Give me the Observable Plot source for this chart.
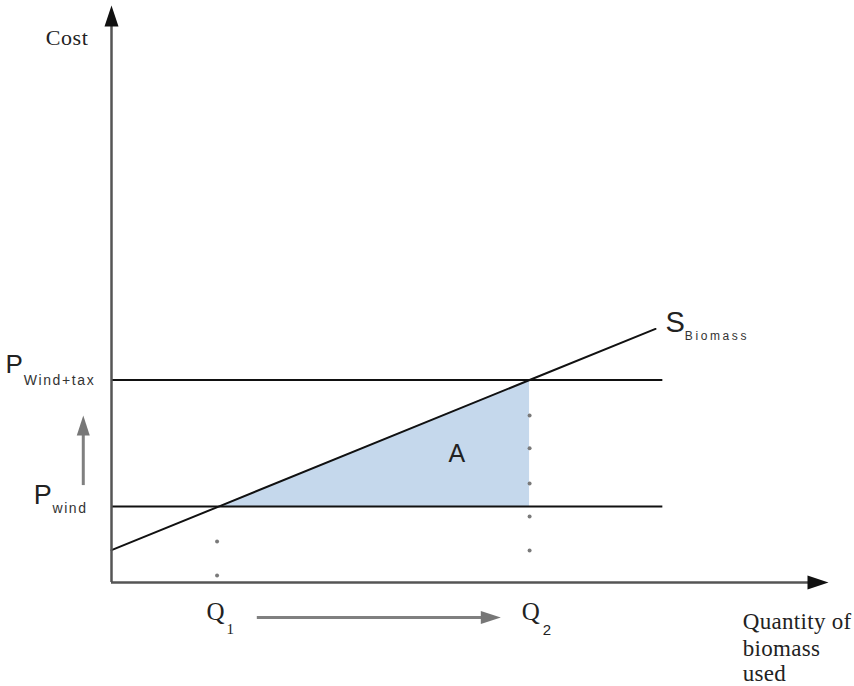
<!DOCTYPE html>
<html>
<head>
<meta charset="utf-8">
<script src="https://cdn.jsdelivr.net/npm/d3@7"></script>
<script src="https://cdn.jsdelivr.net/npm/@observablehq/plot@0.6"></script>
<style>
  html, body { margin: 0; padding: 0; background: #ffffff; }
  #chart svg { display: block; }
</style>
</head>
<body>
<div id="chart"></div>
<script>
// ---- diagram values (abstract units: quantity on x, cost on y) ----
const Q1 = 2.05, Q2 = 8;
const P_WIND = 3, P_TAX = 8;
const supplyQ = [0, Q1, Q2, 10.41];
const supplyP = [1.28, P_WIND, P_TAX, 10.02];
const xMax = 13.72, yMax = 22.8;
const priceLineEnd = 10.55;
const dotsAtQ1 = [0.28, 1.62];
const dotsAtQ2 = [1.26, 2.61, 3.91, 5.30, 6.60];
const qArrow = {from: 2.79, to: 7.45, at: -1.38};
const pArrow = {from: 3.83, to: 6.6, at: -0.54};

// labels: [text, x, y(baseline), font, size, letterSpacing, color]
const labels = [
  ["Cost", -1.26, 21.22, "serif", 22, 0.6, "#222"],
  ["P", -2.03, 8.26, "sans", 26, 0, "#222"],
  ["Wind+tax", -1.68, 7.79, "sans", 14, 1.6, "#333"],
  ["P", -1.49, 3.12, "sans", 27, 0, "#222"],
  ["wind", -1.13, 2.73, "sans", 14, 1.6, "#333"],
  ["S", 10.60, 9.88, "sans", 29, 0, "#222"],
  ["Biomass", 10.97, 9.57, "sans", 12, 2.6, "#333"],
  ["A", 6.45, 4.78, "sans", 25, 0, "#222"],
  ["Q", 1.82, -1.50, "serif", 25, 0, "#222"],
  ["1", 2.20, -2.02, "serif", 15, 0, "#222"],
  ["Q", 7.85, -1.50, "serif", 25, 0, "#222"],
  ["2", 8.25, -2.06, "sans", 15, 0, "#222"],
  ["Quantity of", 12.08, -1.82, "serif", 23, 0.3, "#222"],
  ["biomass", 12.08, -2.89, "serif", 23, 0.3, "#222"],
  ["used", 12.08, -3.89, "serif", 23, 0.3, "#222"]
];

const supply = supplyQ.map((q, i) => ({q, p: supplyP[i]}));
const shade = [{q: Q1, lo: P_WIND, hi: P_WIND}, {q: Q2, lo: P_WIND, hi: P_TAX}];
const dots = [...dotsAtQ1.map(p => ({q: Q1 - 0.03, p})), ...dotsAtQ2.map(p => ({q: Q2, p}))];

// arrowhead symbols: tip at origin, pointing up
const headAxis = {draw(ctx) { ctx.moveTo(0, 0); ctx.lineTo(7, 21); ctx.lineTo(-7, 21); ctx.closePath(); }};
const headGray = {draw(ctx) { ctx.moveTo(0, 0); ctx.lineTo(6.5, 20); ctx.lineTo(-6.5, 20); ctx.closePath(); }};

const fonts = {serif: "'Liberation Serif', 'Times New Roman', serif", sans: "'Liberation Sans', Arial, sans-serif"};

const textMarks = labels.map(([t, x, y, f, s, ls, c]) =>
  Plot.text([{t, x, y}], {x: "x", y: "y", text: "t", textAnchor: "start", lineAnchor: "bottom",
    fontFamily: fonts[f], fontSize: s, fill: c})
);

const chart = Plot.plot({
  width: 854,
  height: 686,
  marginLeft: 111,
  marginRight: 26,
  marginTop: 5,
  marginBottom: 104,
  x: {domain: [0, xMax], axis: null},
  y: {domain: [0, yMax], axis: null},
  style: {background: "#ffffff", overflow: "visible"},
  marks: [
    Plot.areaY(shade, {x: "q", y1: "lo", y2: "hi", fill: "#c5d8ec", fillOpacity: 1}),
    Plot.ruleY([P_WIND, P_TAX], {x1: 0, x2: priceLineEnd, stroke: "#111", strokeWidth: 2}),
    Plot.line(supply, {x: "q", y: "p", stroke: "#111", strokeWidth: 2}),
    Plot.dot(dots, {x: "q", y: "p", r: 2, fill: "#7a7a7a", stroke: null}),
    // axes
    Plot.ruleX([0], {y1: 0, y2: yMax - 0.7, stroke: "#555", strokeWidth: 2.5}),
    Plot.ruleY([0], {x1: 0, x2: xMax - 0.3, stroke: "#555", strokeWidth: 2.5}),
    Plot.dot([{q: 0, p: yMax}], {x: "q", y: "p", symbol: headAxis, r: 5, fill: "#111", stroke: null}),
    Plot.dot([{q: xMax, p: 0}], {x: "q", y: "p", symbol: headAxis, r: 5, rotate: 90, fill: "#111", stroke: null}),
    // gray shift arrows
    Plot.ruleY([qArrow.at], {x1: qArrow.from, x2: qArrow.to - 0.3, stroke: "#808080", strokeWidth: 3}),
    Plot.dot([{q: qArrow.to, p: qArrow.at}], {x: "q", y: "p", symbol: headGray, r: 5, rotate: 90, fill: "#777", stroke: null}),
    Plot.ruleX([pArrow.at], {y1: pArrow.from, y2: pArrow.to - 0.6, stroke: "#808080", strokeWidth: 3}),
    Plot.dot([{q: pArrow.at, p: pArrow.to}], {x: "q", y: "p", symbol: headGray, r: 5, fill: "#777", stroke: null}),
    ...textMarks
  ]
});

document.getElementById("chart").appendChild(chart);

// letter spacing for stretched labels
const spacing = new Map(labels.map(l => [l[0], l[5]]));
d3.select(chart).selectAll("text").each(function() {
  const ls = spacing.get(this.textContent);
  if (ls) this.style.letterSpacing = ls + "px";
});
</script>
</body>
</html>
